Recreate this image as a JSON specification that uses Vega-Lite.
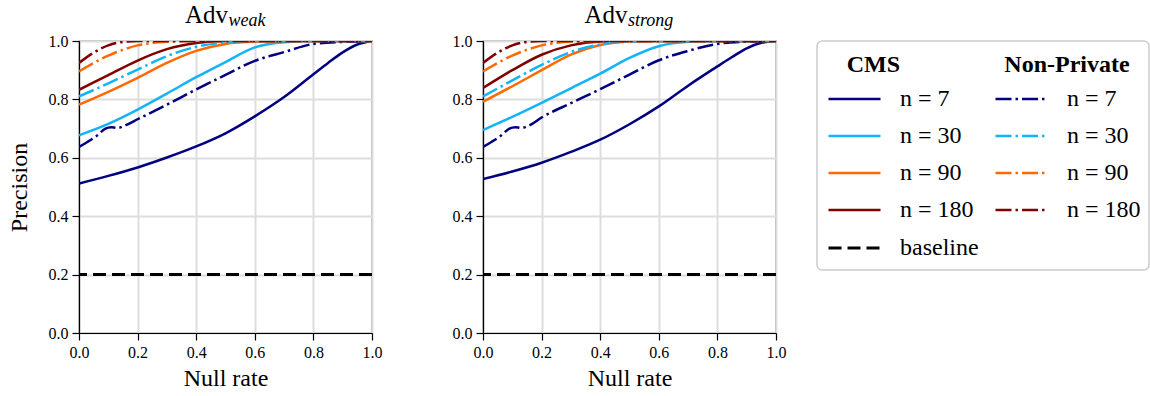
{
  "$schema": "https://vega.github.io/schema/vega-lite/v6.json",
  "padding": {"left": 6, "top": 2, "right": 0, "bottom": 0},
  "background": "white",
  "config": {
    "font": "Liberation Serif",
    "view": {"stroke": "black", "strokeWidth": 1.2},
    "axis": {
      "labelFont": "Liberation Serif", "labelFontSize": 16, "labelColor": "black",
      "titleFont": "Liberation Serif", "titleFontSize": 24, "titleFontWeight": "normal", "titleColor": "black",
      "tickColor": "black", "tickSize": 7, "tickWidth": 1.2, "domainColor": "black", "domainWidth": 1.2,
      "gridColor": "#dddddd", "gridWidth": 2, "labelPadding": 4, "labelFlush": false
    },
    "legend": {
      "symbolType": "stroke", "symbolSize": 2704, "symbolStrokeWidth": 2.5,
      "labelFont": "Liberation Serif", "labelFontSize": 24, "labelColor": "black", "labelOffset": 18,
      "titleFont": "Liberation Serif", "titleFontSize": 24, "titleFontWeight": "bold", "titleColor": "black",
      "titlePadding": 10, "clipHeight": 24, "rowPadding": 13, "padding": 0, "orient": "none", "direction": "vertical"
    }
  },
  "datasets": {
    "cms": [
      {"adv": "weak", "n": "n = 7", "rate": 0.0, "precision": 0.512},
      {"adv": "weak", "n": "n = 7", "rate": 0.1, "precision": 0.538},
      {"adv": "weak", "n": "n = 7", "rate": 0.2, "precision": 0.567},
      {"adv": "weak", "n": "n = 7", "rate": 0.3, "precision": 0.601},
      {"adv": "weak", "n": "n = 7", "rate": 0.4, "precision": 0.639},
      {"adv": "weak", "n": "n = 7", "rate": 0.5, "precision": 0.684},
      {"adv": "weak", "n": "n = 7", "rate": 0.6, "precision": 0.742},
      {"adv": "weak", "n": "n = 7", "rate": 0.7, "precision": 0.808},
      {"adv": "weak", "n": "n = 7", "rate": 0.8, "precision": 0.886},
      {"adv": "weak", "n": "n = 7", "rate": 0.85, "precision": 0.925},
      {"adv": "weak", "n": "n = 7", "rate": 0.9, "precision": 0.961},
      {"adv": "weak", "n": "n = 7", "rate": 0.95, "precision": 0.988},
      {"adv": "weak", "n": "n = 7", "rate": 1.0, "precision": 1.0},
      {"adv": "weak", "n": "n = 30", "rate": 0.0, "precision": 0.677},
      {"adv": "weak", "n": "n = 30", "rate": 0.1, "precision": 0.716},
      {"adv": "weak", "n": "n = 30", "rate": 0.2, "precision": 0.765},
      {"adv": "weak", "n": "n = 30", "rate": 0.3, "precision": 0.82},
      {"adv": "weak", "n": "n = 30", "rate": 0.4, "precision": 0.876},
      {"adv": "weak", "n": "n = 30", "rate": 0.5, "precision": 0.928},
      {"adv": "weak", "n": "n = 30", "rate": 0.6, "precision": 0.978},
      {"adv": "weak", "n": "n = 30", "rate": 0.7, "precision": 0.996},
      {"adv": "weak", "n": "n = 30", "rate": 0.8, "precision": 1.0},
      {"adv": "weak", "n": "n = 30", "rate": 1.0, "precision": 1.0},
      {"adv": "weak", "n": "n = 90", "rate": 0.0, "precision": 0.782},
      {"adv": "weak", "n": "n = 90", "rate": 0.1, "precision": 0.826},
      {"adv": "weak", "n": "n = 90", "rate": 0.2, "precision": 0.874},
      {"adv": "weak", "n": "n = 90", "rate": 0.3, "precision": 0.925},
      {"adv": "weak", "n": "n = 90", "rate": 0.4, "precision": 0.966},
      {"adv": "weak", "n": "n = 90", "rate": 0.5, "precision": 0.99},
      {"adv": "weak", "n": "n = 90", "rate": 0.6, "precision": 0.998},
      {"adv": "weak", "n": "n = 90", "rate": 0.7, "precision": 1.0},
      {"adv": "weak", "n": "n = 90", "rate": 1.0, "precision": 1.0},
      {"adv": "weak", "n": "n = 180", "rate": 0.0, "precision": 0.833},
      {"adv": "weak", "n": "n = 180", "rate": 0.1, "precision": 0.883},
      {"adv": "weak", "n": "n = 180", "rate": 0.2, "precision": 0.933},
      {"adv": "weak", "n": "n = 180", "rate": 0.3, "precision": 0.972},
      {"adv": "weak", "n": "n = 180", "rate": 0.4, "precision": 0.993},
      {"adv": "weak", "n": "n = 180", "rate": 0.5, "precision": 1.0},
      {"adv": "weak", "n": "n = 180", "rate": 1.0, "precision": 1.0},
      {"adv": "strong", "n": "n = 7", "rate": 0.0, "precision": 0.527},
      {"adv": "strong", "n": "n = 7", "rate": 0.1, "precision": 0.553},
      {"adv": "strong", "n": "n = 7", "rate": 0.2, "precision": 0.583},
      {"adv": "strong", "n": "n = 7", "rate": 0.3, "precision": 0.62},
      {"adv": "strong", "n": "n = 7", "rate": 0.4, "precision": 0.662},
      {"adv": "strong", "n": "n = 7", "rate": 0.5, "precision": 0.715},
      {"adv": "strong", "n": "n = 7", "rate": 0.6, "precision": 0.776},
      {"adv": "strong", "n": "n = 7", "rate": 0.7, "precision": 0.847},
      {"adv": "strong", "n": "n = 7", "rate": 0.8, "precision": 0.913},
      {"adv": "strong", "n": "n = 7", "rate": 0.85, "precision": 0.945},
      {"adv": "strong", "n": "n = 7", "rate": 0.9, "precision": 0.975},
      {"adv": "strong", "n": "n = 7", "rate": 0.95, "precision": 0.994},
      {"adv": "strong", "n": "n = 7", "rate": 1.0, "precision": 1.0},
      {"adv": "strong", "n": "n = 30", "rate": 0.0, "precision": 0.695},
      {"adv": "strong", "n": "n = 30", "rate": 0.1, "precision": 0.74},
      {"adv": "strong", "n": "n = 30", "rate": 0.2, "precision": 0.788},
      {"adv": "strong", "n": "n = 30", "rate": 0.3, "precision": 0.838},
      {"adv": "strong", "n": "n = 30", "rate": 0.4, "precision": 0.888},
      {"adv": "strong", "n": "n = 30", "rate": 0.5, "precision": 0.942},
      {"adv": "strong", "n": "n = 30", "rate": 0.6, "precision": 0.982},
      {"adv": "strong", "n": "n = 30", "rate": 0.7, "precision": 0.997},
      {"adv": "strong", "n": "n = 30", "rate": 0.8, "precision": 1.0},
      {"adv": "strong", "n": "n = 30", "rate": 1.0, "precision": 1.0},
      {"adv": "strong", "n": "n = 90", "rate": 0.0, "precision": 0.792},
      {"adv": "strong", "n": "n = 90", "rate": 0.1, "precision": 0.845},
      {"adv": "strong", "n": "n = 90", "rate": 0.2, "precision": 0.9},
      {"adv": "strong", "n": "n = 90", "rate": 0.3, "precision": 0.953},
      {"adv": "strong", "n": "n = 90", "rate": 0.4, "precision": 0.986},
      {"adv": "strong", "n": "n = 90", "rate": 0.5, "precision": 0.998},
      {"adv": "strong", "n": "n = 90", "rate": 0.6, "precision": 1.0},
      {"adv": "strong", "n": "n = 90", "rate": 1.0, "precision": 1.0},
      {"adv": "strong", "n": "n = 180", "rate": 0.0, "precision": 0.839},
      {"adv": "strong", "n": "n = 180", "rate": 0.1, "precision": 0.9},
      {"adv": "strong", "n": "n = 180", "rate": 0.2, "precision": 0.953},
      {"adv": "strong", "n": "n = 180", "rate": 0.3, "precision": 0.985},
      {"adv": "strong", "n": "n = 180", "rate": 0.4, "precision": 0.998},
      {"adv": "strong", "n": "n = 180", "rate": 0.5, "precision": 1.0},
      {"adv": "strong", "n": "n = 180", "rate": 1.0, "precision": 1.0}
    ],
    "np": [
      {"adv": "weak", "n_np": "n = 7", "rate": 0.0, "precision": 0.637},
      {"adv": "weak", "n_np": "n = 7", "rate": 0.03, "precision": 0.655},
      {"adv": "weak", "n_np": "n = 7", "rate": 0.06, "precision": 0.675},
      {"adv": "weak", "n_np": "n = 7", "rate": 0.09, "precision": 0.7},
      {"adv": "weak", "n_np": "n = 7", "rate": 0.11, "precision": 0.705},
      {"adv": "weak", "n_np": "n = 7", "rate": 0.13, "precision": 0.702},
      {"adv": "weak", "n_np": "n = 7", "rate": 0.16, "precision": 0.712},
      {"adv": "weak", "n_np": "n = 7", "rate": 0.2, "precision": 0.732},
      {"adv": "weak", "n_np": "n = 7", "rate": 0.3, "precision": 0.782},
      {"adv": "weak", "n_np": "n = 7", "rate": 0.4, "precision": 0.834},
      {"adv": "weak", "n_np": "n = 7", "rate": 0.5, "precision": 0.884},
      {"adv": "weak", "n_np": "n = 7", "rate": 0.6, "precision": 0.932},
      {"adv": "weak", "n_np": "n = 7", "rate": 0.7, "precision": 0.962},
      {"adv": "weak", "n_np": "n = 7", "rate": 0.8, "precision": 0.99},
      {"adv": "weak", "n_np": "n = 7", "rate": 0.9, "precision": 0.997},
      {"adv": "weak", "n_np": "n = 7", "rate": 1.0, "precision": 1.0},
      {"adv": "weak", "n_np": "n = 30", "rate": 0.0, "precision": 0.81},
      {"adv": "weak", "n_np": "n = 30", "rate": 0.1, "precision": 0.855},
      {"adv": "weak", "n_np": "n = 30", "rate": 0.2, "precision": 0.902},
      {"adv": "weak", "n_np": "n = 30", "rate": 0.3, "precision": 0.948},
      {"adv": "weak", "n_np": "n = 30", "rate": 0.4, "precision": 0.98},
      {"adv": "weak", "n_np": "n = 30", "rate": 0.5, "precision": 0.995},
      {"adv": "weak", "n_np": "n = 30", "rate": 0.6, "precision": 1.0},
      {"adv": "weak", "n_np": "n = 30", "rate": 1.0, "precision": 1.0},
      {"adv": "weak", "n_np": "n = 90", "rate": 0.0, "precision": 0.896},
      {"adv": "weak", "n_np": "n = 90", "rate": 0.1, "precision": 0.95},
      {"adv": "weak", "n_np": "n = 90", "rate": 0.2, "precision": 0.985},
      {"adv": "weak", "n_np": "n = 90", "rate": 0.3, "precision": 0.997},
      {"adv": "weak", "n_np": "n = 90", "rate": 0.4, "precision": 1.0},
      {"adv": "weak", "n_np": "n = 90", "rate": 1.0, "precision": 1.0},
      {"adv": "weak", "n_np": "n = 180", "rate": 0.0, "precision": 0.925},
      {"adv": "weak", "n_np": "n = 180", "rate": 0.05, "precision": 0.96},
      {"adv": "weak", "n_np": "n = 180", "rate": 0.1, "precision": 0.985},
      {"adv": "weak", "n_np": "n = 180", "rate": 0.15, "precision": 0.997},
      {"adv": "weak", "n_np": "n = 180", "rate": 0.2, "precision": 1.0},
      {"adv": "weak", "n_np": "n = 180", "rate": 1.0, "precision": 1.0},
      {"adv": "strong", "n_np": "n = 7", "rate": 0.0, "precision": 0.637},
      {"adv": "strong", "n_np": "n = 7", "rate": 0.03, "precision": 0.655},
      {"adv": "strong", "n_np": "n = 7", "rate": 0.06, "precision": 0.675},
      {"adv": "strong", "n_np": "n = 7", "rate": 0.09, "precision": 0.7},
      {"adv": "strong", "n_np": "n = 7", "rate": 0.11, "precision": 0.705},
      {"adv": "strong", "n_np": "n = 7", "rate": 0.13, "precision": 0.702},
      {"adv": "strong", "n_np": "n = 7", "rate": 0.16, "precision": 0.712},
      {"adv": "strong", "n_np": "n = 7", "rate": 0.2, "precision": 0.738},
      {"adv": "strong", "n_np": "n = 7", "rate": 0.3, "precision": 0.787},
      {"adv": "strong", "n_np": "n = 7", "rate": 0.4, "precision": 0.835},
      {"adv": "strong", "n_np": "n = 7", "rate": 0.5, "precision": 0.885},
      {"adv": "strong", "n_np": "n = 7", "rate": 0.6, "precision": 0.934},
      {"adv": "strong", "n_np": "n = 7", "rate": 0.7, "precision": 0.966},
      {"adv": "strong", "n_np": "n = 7", "rate": 0.8, "precision": 0.99},
      {"adv": "strong", "n_np": "n = 7", "rate": 0.9, "precision": 0.998},
      {"adv": "strong", "n_np": "n = 7", "rate": 1.0, "precision": 1.0},
      {"adv": "strong", "n_np": "n = 30", "rate": 0.0, "precision": 0.81},
      {"adv": "strong", "n_np": "n = 30", "rate": 0.1, "precision": 0.865},
      {"adv": "strong", "n_np": "n = 30", "rate": 0.2, "precision": 0.918},
      {"adv": "strong", "n_np": "n = 30", "rate": 0.3, "precision": 0.962},
      {"adv": "strong", "n_np": "n = 30", "rate": 0.4, "precision": 0.988},
      {"adv": "strong", "n_np": "n = 30", "rate": 0.5, "precision": 0.998},
      {"adv": "strong", "n_np": "n = 30", "rate": 0.6, "precision": 1.0},
      {"adv": "strong", "n_np": "n = 30", "rate": 1.0, "precision": 1.0},
      {"adv": "strong", "n_np": "n = 90", "rate": 0.0, "precision": 0.896},
      {"adv": "strong", "n_np": "n = 90", "rate": 0.1, "precision": 0.95},
      {"adv": "strong", "n_np": "n = 90", "rate": 0.2, "precision": 0.985},
      {"adv": "strong", "n_np": "n = 90", "rate": 0.3, "precision": 0.998},
      {"adv": "strong", "n_np": "n = 90", "rate": 0.4, "precision": 1.0},
      {"adv": "strong", "n_np": "n = 90", "rate": 1.0, "precision": 1.0},
      {"adv": "strong", "n_np": "n = 180", "rate": 0.0, "precision": 0.925},
      {"adv": "strong", "n_np": "n = 180", "rate": 0.05, "precision": 0.96},
      {"adv": "strong", "n_np": "n = 180", "rate": 0.1, "precision": 0.985},
      {"adv": "strong", "n_np": "n = 180", "rate": 0.15, "precision": 0.997},
      {"adv": "strong", "n_np": "n = 180", "rate": 0.2, "precision": 1.0},
      {"adv": "strong", "n_np": "n = 180", "rate": 1.0, "precision": 1.0}
    ],
    "baseline": [{"kind": "baseline", "precision": 0.2}]
  },
  "spacing": 29,
  "hconcat": [
    {
      "width": 293, "height": 292,
      "layer": [
        {
          "data": {"name": "cms"},
          "transform": [{"filter": "datum.adv === 'weak'"}],
          "mark": {"type": "line", "strokeWidth": 2.5, "interpolate": "monotone", "clip": true},
          "encoding": {
            "x": {"field": "rate", "type": "quantitative", "scale": {"domain": [0, 1]}, "axis": {"title": "Null rate", "titlePadding": 6, "values": [0, 0.2, 0.4, 0.6, 0.8, 1.0], "format": ".1f"}},
            "y": {"field": "precision", "type": "quantitative", "scale": {"domain": [0, 1]}, "axis": {"title": "Precision", "titlePadding": 17, "values": [0, 0.2, 0.4, 0.6, 0.8, 1.0], "format": ".1f"}},
            "color": {"field": "n", "type": "nominal", "scale": {"domain": ["n = 7", "n = 30", "n = 90", "n = 180"], "range": ["#000080", "#12b4f7", "#ff6a00", "#800000"]}, "legend": {"title": "CMS", "titleAnchor": "middle", "titleAlign": "right", "legendX": 748, "legendY": 12}}
          }
        },
        {
          "data": {"name": "np"},
          "transform": [{"filter": "datum.adv === 'weak'"}],
          "mark": {"type": "line", "strokeWidth": 2.5, "strokeDash": [16, 4, 2.5, 4], "interpolate": "monotone", "clip": true},
          "encoding": {
            "x": {"field": "rate", "type": "quantitative"},
            "y": {"field": "precision", "type": "quantitative"},
            "stroke": {"field": "n_np", "type": "nominal", "sort": ["n = 7", "n = 30", "n = 90", "n = 180"], "scale": {"range": ["#000080", "#12b4f7", "#ff6a00", "#800000"]}, "legend": {"title": "Non-Private", "titleAnchor": "middle", "symbolDash": [16, 4, 2.5, 4], "legendX": 915, "legendY": 12}}
          }
        },
        {
          "data": {"name": "baseline"},
          "mark": {"type": "rule", "strokeWidth": 3, "color": "black"},
          "encoding": {
            "y": {"field": "precision", "type": "quantitative"},
            "strokeDash": {"field": "kind", "type": "nominal", "scale": {"domain": ["baseline"], "range": [[13, 6]]}, "legend": {"title": null, "symbolStrokeColor": "black", "symbolStrokeWidth": 3, "legendX": 748, "legendY": 195}}
          }
        },
        {
          "data": {"values": [{"label": "Adv"}]},
          "mark": {"type": "text", "fontSize": 25, "align": "right", "baseline": "alphabetic", "dx": 2.5, "dy": -18, "color": "black"},
          "encoding": {"x": {"datum": 0.5}, "y": {"datum": 1}, "text": {"field": "label"}}
        },
        {
          "data": {"values": [{"label": "weak"}]},
          "mark": {"type": "text", "fontSize": 18, "fontStyle": "italic", "align": "left", "baseline": "alphabetic", "dx": 3, "dy": -15, "color": "black"},
          "encoding": {"x": {"datum": 0.5}, "y": {"datum": 1}, "text": {"field": "label"}}
        }
      ]
    },
    {
      "width": 293, "height": 292,
      "layer": [
        {
          "data": {"name": "cms"},
          "transform": [{"filter": "datum.adv === 'strong'"}],
          "mark": {"type": "line", "strokeWidth": 2.5, "interpolate": "monotone", "clip": true},
          "encoding": {
            "x": {"field": "rate", "type": "quantitative", "scale": {"domain": [0, 1]}, "axis": {"title": "Null rate", "titlePadding": 6, "values": [0, 0.2, 0.4, 0.6, 0.8, 1.0], "format": ".1f"}},
            "y": {"field": "precision", "type": "quantitative", "scale": {"domain": [0, 1]}, "axis": {"title": null, "values": [0, 0.2, 0.4, 0.6, 0.8, 1.0], "format": ".1f", "minExtent": 70, "maxExtent": 70}},
            "color": {"field": "n", "type": "nominal", "scale": {"domain": ["n = 7", "n = 30", "n = 90", "n = 180"], "range": ["#000080", "#12b4f7", "#ff6a00", "#800000"]}}
          }
        },
        {
          "data": {"name": "np"},
          "transform": [{"filter": "datum.adv === 'strong'"}],
          "mark": {"type": "line", "strokeWidth": 2.5, "strokeDash": [16, 4, 2.5, 4], "interpolate": "monotone", "clip": true},
          "encoding": {
            "x": {"field": "rate", "type": "quantitative"},
            "y": {"field": "precision", "type": "quantitative"},
            "stroke": {"field": "n_np", "type": "nominal", "sort": ["n = 7", "n = 30", "n = 90", "n = 180"], "scale": {"range": ["#000080", "#12b4f7", "#ff6a00", "#800000"]}}
          }
        },
        {
          "data": {"name": "baseline"},
          "mark": {"type": "rule", "strokeWidth": 3, "color": "black"},
          "encoding": {
            "y": {"field": "precision", "type": "quantitative"},
            "strokeDash": {"field": "kind", "type": "nominal", "scale": {"domain": ["baseline"], "range": [[13, 6]]}}
          }
        },
        {
          "data": {"values": [{"label": "Adv"}]},
          "mark": {"type": "text", "fontSize": 25, "align": "right", "baseline": "alphabetic", "dx": -2, "dy": -18, "color": "black"},
          "encoding": {"x": {"datum": 0.5}, "y": {"datum": 1}, "text": {"field": "label"}}
        },
        {
          "data": {"values": [{"label": "strong"}]},
          "mark": {"type": "text", "fontSize": 18, "fontStyle": "italic", "align": "left", "baseline": "alphabetic", "dx": -1.5, "dy": -15, "color": "black"},
          "encoding": {"x": {"datum": 0.5}, "y": {"datum": 1}, "text": {"field": "label"}}
        }
      ]
    },
    {
      "width": 332, "height": 229,
      "view": {"stroke": "#cccccc", "strokeWidth": 1.5, "cornerRadius": 5},
      "data": {"values": [{"label": ""}]},
      "mark": {"type": "text"},
      "encoding": {"text": {"field": "label"}}
    }
  ]
}
